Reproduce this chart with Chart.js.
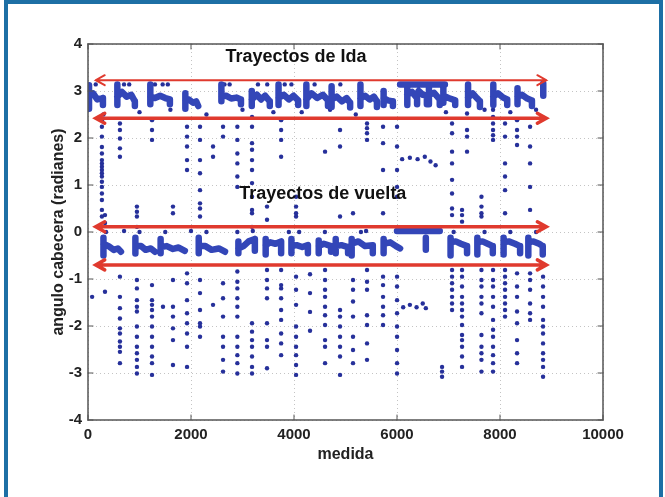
<!DOCTYPE html>
<html lang="es">
<head>
<meta charset="utf-8">
<title>Ángulo de cabecera por medida</title>
<script src="https://cdn.jsdelivr.net/npm/chart.js@4.4.1/dist/chart.umd.min.js"></script>
<style>
  html, body { margin: 0; padding: 0; background: #fff; }
  body { width: 665px; height: 497px; overflow: hidden; position: relative; }
  #marco { position: absolute; left: 4px; top: 0; width: 659px; height: 540px; border: 4px solid #1d6fa5; border-bottom: none; box-sizing: border-box; }
  #contenedor { position: absolute; left: 0; top: 0; width: 665px; height: 497px; }
  canvas { display: block; }
</style>
</head>
<body>
<div id="marco"></div>
<div id="contenedor"><canvas id="grafico" width="665" height="497"></canvas></div>
<script>
// Ejes
const ticksX = [0, 2000, 4000, 6000, 8000, 10000];
const ticksY = [-4, -3, -2, -1, 0, 1, 2, 3, 4];

// Bloques densos de los trayectos de ida (cada trazo es una lista de [medida, angulo])
const trazosIda = [
    [[20, 3.12], [20, 2.62]], [[20, 2.9], [100, 2.95], [180, 2.82], [290, 2.85], [290, 2.7]],
    [[570, 3.14], [570, 2.7]], [[570, 2.88], [660, 2.98], [750, 2.88], [840, 2.92], [910, 2.78], [910, 2.68]],
    [[1210, 3.14], [1210, 2.72]], [[1210, 2.88], [1300, 2.85], [1400, 2.9], [1500, 2.85], [1590, 2.82], [1590, 2.72]],
    [[1890, 2.95], [1890, 2.62]], [[1890, 2.8], [1960, 2.82], [2040, 2.75], [2100, 2.78], [2140, 2.68]],
    [[2590, 3.14], [2590, 2.78]], [[2590, 2.88], [2680, 2.9], [2780, 2.84], [2880, 2.86], [2970, 2.82], [2970, 2.72]],
    [[3180, 3.0], [3180, 2.68]], [[3180, 2.82], [3280, 2.92], [3360, 2.82], [3440, 2.9], [3530, 2.78], [3530, 2.68]],
    [[3700, 3.14], [3700, 2.7]], [[3700, 2.85], [3800, 2.92], [3900, 2.82], [3990, 2.9], [4080, 2.8], [4080, 2.7]],
    [[4240, 3.14], [4240, 2.68]], [[4240, 2.82], [4340, 2.95], [4450, 2.85], [4560, 2.92], [4660, 2.8], [4660, 2.68]],
    [[4730, 3.1], [4730, 2.66]], [[4730, 2.82], [4830, 2.88], [4930, 2.78], [5020, 2.85], [5090, 2.75], [5090, 2.65]],
    [[5290, 3.14], [5290, 2.68]], [[5290, 2.84], [5380, 2.9], [5470, 2.82], [5550, 2.88], [5610, 2.78], [5610, 2.66]],
    [[5740, 3.0], [5740, 2.7]], [[5740, 2.85], [5820, 2.8], [5920, 2.78], [5920, 2.68]],
    [[6060, 3.14], [6930, 3.14]],
    [[6200, 3.12], [6200, 2.7]], [[6200, 2.92], [6290, 2.98], [6390, 2.85], [6390, 2.72]],
    [[6420, 3.0], [6500, 2.92], [6580, 2.9], [6580, 2.72]],
    [[6620, 3.1], [6620, 2.72]], [[6620, 2.92], [6720, 2.96], [6830, 2.82], [6830, 2.7]],
    [[6900, 3.12], [6900, 2.75]], [[6900, 2.9], [7000, 2.85], [7130, 2.8], [7130, 2.7]],
    [[7380, 3.14], [7380, 2.7]], [[7380, 2.86], [7470, 2.95], [7550, 2.85], [7610, 2.78], [7610, 2.66]],
    [[7870, 3.14], [7870, 2.7]], [[7870, 2.88], [7960, 2.95], [8060, 2.86], [8140, 2.82], [8140, 2.7]],
    [[8340, 3.06], [8340, 2.72]], [[8340, 2.88], [8430, 2.92], [8530, 2.84], [8620, 2.8], [8620, 2.68]],
    [[8840, 3.16], [8840, 2.9]]
];

// Bloques densos de los trayectos de vuelta
const trazosVuelta = [
    [[300, -0.12], [300, -0.5]], [[300, -0.25], [400, -0.3], [500, -0.38], [580, -0.35], [640, -0.42]],
    [[920, -0.12], [920, -0.46]], [[920, -0.3], [1030, -0.3], [1120, -0.38], [1220, -0.35], [1300, -0.42]],
    [[1410, -0.15], [1410, -0.45]], [[1410, -0.32], [1530, -0.3], [1650, -0.36], [1760, -0.33], [1880, -0.4]],
    [[2150, -0.12], [2150, -0.45]], [[2150, -0.3], [2280, -0.3], [2400, -0.38], [2540, -0.35], [2660, -0.42]],
    [[2920, -0.2], [2920, -0.45]], [[2920, -0.35], [3020, -0.3], [3120, -0.2], [3240, -0.15], [3240, -0.4]],
    [[3450, -0.15], [3450, -0.48]], [[3450, -0.28], [3540, -0.22], [3640, -0.25], [3750, -0.2], [3750, -0.45]],
    [[3950, -0.15], [3950, -0.45]], [[3950, -0.3], [4050, -0.28], [4160, -0.32], [4270, -0.28], [4270, -0.45]],
    [[4480, -0.18], [4480, -0.45]], [[4480, -0.3], [4580, -0.25], [4720, -0.3], [4720, -0.42]],
    [[4810, -0.15], [4810, -0.45]], [[4810, -0.3], [4920, -0.28], [5050, -0.32], [5050, -0.45]],
    [[5120, -0.15], [5120, -0.5]], [[5120, -0.25], [5250, -0.2], [5380, -0.3], [5530, -0.28], [5530, -0.45]],
    [[5740, -0.15], [5740, -0.45]], [[5740, -0.25], [5870, -0.22], [5980, -0.3], [6060, -0.35]],
    [[6000, 0.02], [6830, 0.02]],
    [[6560, -0.12], [6560, -0.38]],
    [[7040, -0.12], [7040, -0.5]], [[7040, -0.22], [7140, -0.2], [7240, -0.25], [7360, -0.3], [7360, -0.45]],
    [[7560, -0.12], [7560, -0.48]], [[7560, -0.22], [7660, -0.2], [7760, -0.25], [7860, -0.3], [7860, -0.45]],
    [[8070, -0.12], [8070, -0.48]], [[8070, -0.22], [8170, -0.2], [8290, -0.25], [8390, -0.3], [8390, -0.45]],
    [[8550, -0.12], [8550, -0.5]], [[8550, -0.22], [8650, -0.2], [8760, -0.25], [8830, -0.3], [8830, -0.48]]
];

// Columnas de puntos sueltos entre trayectos (medida y ángulos de cada columna)
const columnasX = [80, 270, 330, 620, 950, 1243, 1456, 1650, 1923, 2175, 2428, 2622, 2900, 3185, 3476, 3750, 4040,
    4311, 4603, 4894, 5146, 5418, 5729, 6001, 6875, 7069, 7263, 7360, 7640, 7865, 8098, 8331, 8584, 8836];
const columnasY = [
    [-1.38],
    [2.38, 2.24, 2.03, 1.81, 1.67, 1.53, 1.46, 1.39, 1.32, 1.25, 1.18, 1.07, 0.96, 0.82, 0.68, 0.47, 0.33],
    [0.36, 0.19, -1.27],
    [2.31, 2.17, 1.99, 1.78, 1.60, -0.95, -1.38, -1.62, -1.84, -2.05, -2.16, -2.33, -2.44, -2.55, -2.79],
    [0.54, 0.43, 0.33, 0.11, -1.02, -1.2, -1.45, -1.59, -1.69, -2.01, -2.23, -2.44, -2.58, -2.72, -2.87, -3.01],
    [2.38, 2.17, 1.96, -1.13, -1.45, -1.55, -1.66, -1.80, -2.01, -2.23, -2.44, -2.65, -2.79, -3.04],
    [-1.59],
    [0.54, 0.40, -1.02, -1.59, -1.80, -2.05, -2.3, -2.83],
    [2.24, 2.03, 1.82, 1.53, 1.32, -0.88, -1.09, -1.45, -1.73, -1.94, -2.16, -2.44, -2.87],
    [2.24, 1.96, 1.53, 1.25, 0.89, 0.61, 0.50, 0.33, -1.02, -1.3, -1.66, -1.94, -2.01, -2.23],
    [1.82, 1.60, -1.55],
    [2.24, 2.03, -1.09, -1.41, -1.8, -2.23, -2.44, -2.72, -2.97],
    [2.24, 1.96, 1.67, 1.46, 1.18, 0.96, -0.84, -1.06, -1.2, -1.41, -1.59, -1.8, -2.23, -2.44, -2.62, -2.79, -3.01],
    [2.45, 2.24, 1.89, 1.75, 1.53, 1.32, 1.04, 0.75, 0.47, 0.40, 0.11, -1.94, -2.12, -2.3, -2.44, -2.65, -2.87, -3.01],
    [0.54, 0.26, -0.81, -1.02, -1.2, -1.41, -1.94, -2.3, -2.44, -2.9],
    [2.38, 2.17, 1.96, 1.60, -0.81, -1.13, -1.2, -1.41, -1.66, -1.87, -2.16, -2.37, -2.62],
    [0.75, 0.54, 0.40, 0.33, -0.95, -1.23, -1.55, -2.01, -2.23, -2.44, -2.62, -2.83, -3.04],
    [-0.9, -1.3, -1.7, -2.1],
    [1.71, -0.81, -1.02, -1.23, -1.38, -1.59, -1.77, -1.98, -2.3, -2.44, -2.79],
    [2.17, 1.82, 0.33, -1.66, -1.8, -2.01, -2.23, -2.44, -2.65, -3.04],
    [0.40, -1.02, -1.23, -1.48, -1.8, -2.23, -2.51, -2.79],
    [2.31, 2.21, 2.10, 1.96, -0.81, -1.06, -1.23, -1.77, -1.98, -2.37, -2.72],
    [2.24, 1.89, 1.32, 0.40, -0.95, -1.13, -1.38, -1.59, -1.77, -1.98],
    [2.24, 1.82, 1.32, 0.96, 0.75, -0.95, -1.16, -1.45, -1.73, -2.01, -2.23, -2.51, -2.79, -3.01],
    [-2.87, -2.97, -3.08],
    [2.31, 2.10, 1.71, 1.46, 1.11, 0.82, 0.50, 0.36, -0.81, -0.95, -1.09, -1.23, -1.38, -1.52, -1.66],
    [0.47, 0.36, 0.22, -0.81, -0.95, -1.16, -1.38, -1.52, -1.66, -1.80, -1.98, -2.19, -2.3, -2.44, -2.65, -2.87],
    [2.52, 2.17, 2.03, 1.71],
    [0.75, 0.54, 0.40, 0.33, -0.81, -1.02, -1.16, -1.38, -1.52, -1.73, -2.19, -2.44, -2.58, -2.72, -2.97],
    [2.6, 2.45, 2.31, 2.17, 2.06, 1.96, -0.81, -1.02, -1.16, -1.38, -1.59, -1.87, -2.08, -2.23, -2.44, -2.62, -2.79, -2.97],
    [2.31, 2.03, 1.46, 1.18, 0.89, 0.40, -0.81, -0.95, -1.09, -1.23, -1.38, -1.52, -1.66, -1.8],
    [2.38, 2.17, 2.03, 1.85, -0.88, -1.16, -1.38, -1.69, -1.94, -2.3, -2.58, -2.79],
    [2.24, 1.82, 1.46, 0.96, 0.47, -0.88, -1.02, -1.23, -1.52, -1.73, -1.87],
    [-0.95, -1.16, -1.38, -1.59, -1.87, -2.01, -2.16, -2.37, -2.58, -2.72, -2.87, -3.08]
];

// Otros puntos sueltos: cimas de los bloques, tramos cortos cerca de ±1.55 y puntos junto a las bandas
const puntosSueltos = [
    [150, 3.14], [700, 3.14], [800, 3.14], [1300, 3.14], [1450, 3.14], [1550, 3.14], [2650, 3.14], [2750, 3.14],
    [3300, 3.14], [3480, 3.14], [3820, 3.14], [3950, 3.14], [4400, 3.14], [4900, 3.14],
    [350, 0.0], [700, 0.02], [1000, 0.0], [1500, 0.0], [2000, 0.02], [2300, 0.0], [2900, 0.0], [3200, 0.02],
    [3900, 0.0], [4100, 0.0], [4600, 0.0], [5300, 0.0], [5400, 0.02], [7100, 0.0], [7700, 0.0], [8200, 0.0], [8700, 0.0],
    [6100, 1.55], [6250, 1.58], [6400, 1.55], [6540, 1.6], [6650, 1.5], [6750, 1.42],
    [6120, -1.6], [6250, -1.55], [6380, -1.6], [6500, -1.52], [6560, -1.62],
    [300, 2.5], [1000, 2.55], [1600, 2.6], [2300, 2.5], [3000, 2.6], [3600, 2.55], [4150, 2.55], [4700, 2.6],
    [5200, 2.5], [6950, 2.55], [7700, 2.6], [8200, 2.55], [8700, 2.6]
];

// Flechas rojas (extremos en medida y altura en radianes) y rótulos
const flechasX = [150, 8900];
const flechasY = [3.23, 2.42, 0.11, -0.70];
const rotulos = ['Trayectos de Ida', 'Trayectos de vuelta'];
const rotulosX = [4040, 4560];
const rotulosY = [3.72, 0.8];

function aPuntos(trazos) {
    const datos = [];
    trazos.forEach(function(t) {
        t.forEach(function(p) { datos.push({x: p[0], y: p[1]}); });
        datos.push({x: t[t.length - 1][0], y: null});
    });
    return datos;
}

const dispersos = [];
columnasX.forEach(function(x, i) {
    columnasY[i].forEach(function(y) { dispersos.push({x: x, y: y}); });
});
puntosSueltos.forEach(function(p) { dispersos.push({x: p[0], y: p[1]}); });

// Flechas, rótulos, marco y marcas interiores estilo MATLAB
const anotaciones = {
    id: 'anotaciones',
    afterDatasetsDraw(chart) {
        const ctx = chart.ctx;
        const sx = chart.scales.x, sy = chart.scales.y;
        const a = chart.chartArea;
        ctx.save();

        // flechas de doble punta
        flechasY.forEach(function(v, i) {
            const y = sy.getPixelForValue(v);
            const x0 = sx.getPixelForValue(flechasX[0]);
            const x1 = sx.getPixelForValue(flechasX[1]);
            ctx.strokeStyle = '#e03a2e';
            ctx.lineWidth = i === 0 ? 2 : 3.5;
            ctx.lineCap = 'round';
            ctx.beginPath();
            ctx.moveTo(x0, y); ctx.lineTo(x1, y);
            ctx.moveTo(x0 + 9, y - 5); ctx.lineTo(x0, y); ctx.lineTo(x0 + 9, y + 5);
            ctx.moveTo(x1 - 9, y - 5); ctx.lineTo(x1, y); ctx.lineTo(x1 - 9, y + 5);
            ctx.stroke();
        });

        // rótulos
        ctx.fillStyle = '#111';
        ctx.font = 'bold 18px "Liberation Sans", Arial, sans-serif';
        ctx.textAlign = 'center';
        ctx.textBaseline = 'middle';
        rotulos.forEach(function(t, i) {
            ctx.fillText(t, sx.getPixelForValue(rotulosX[i]), sy.getPixelForValue(rotulosY[i]));
        });

        // marco del área de dibujo
        ctx.strokeStyle = '#555';
        ctx.lineWidth = 1.5;
        ctx.strokeRect(a.left, a.top, a.right - a.left, a.bottom - a.top);

        // marcas hacia dentro
        ctx.lineWidth = 1;
        ctx.beginPath();
        ticksX.forEach(function(v) {
            const x = sx.getPixelForValue(v);
            ctx.moveTo(x, a.bottom); ctx.lineTo(x, a.bottom - 5);
            ctx.moveTo(x, a.top); ctx.lineTo(x, a.top + 5);
        });
        ticksY.forEach(function(v) {
            const y = sy.getPixelForValue(v);
            ctx.moveTo(a.left, y); ctx.lineTo(a.left + 5, y);
            ctx.moveTo(a.right, y); ctx.lineTo(a.right - 5, y);
        });
        ctx.stroke();
        ctx.restore();
    }
};

const fuenteEjes = { family: '"Liberation Sans", Arial, sans-serif', size: 15, weight: 'bold' };
const fuenteTitulos = { family: '"Liberation Sans", Arial, sans-serif', size: 16, weight: 'bold' };

new Chart(document.getElementById('grafico').getContext('2d'), {
    type: 'scatter',
    data: {
        datasets: [
            {
                label: 'Ida',
                data: aPuntos(trazosIda),
                showLine: true,
                spanGaps: false,
                borderColor: '#3346b8',
                borderWidth: 6.5,
                borderCapStyle: 'round',
                borderJoinStyle: 'round',
                pointRadius: 0,
                tension: 0
            },
            {
                label: 'Vuelta',
                data: aPuntos(trazosVuelta),
                showLine: true,
                spanGaps: false,
                borderColor: '#3346b8',
                borderWidth: 6.5,
                borderCapStyle: 'round',
                borderJoinStyle: 'round',
                pointRadius: 0,
                tension: 0
            },
            {
                label: 'Puntos',
                data: dispersos,
                pointRadius: 2.2,
                pointBorderWidth: 0,
                backgroundColor: '#26309a',
                borderColor: '#26309a'
            }
        ]
    },
    options: {
        responsive: false,
        animation: false,
        devicePixelRatio: 1,
        layout: { padding: { left: 49, top: 44, right: 62, bottom: 33 } },
        plugins: { legend: { display: false }, tooltip: { enabled: false } },
        scales: {
            x: {
                type: 'linear',
                min: 0,
                max: 10000,
                afterFit: function(s) { s.height = 44; },
                afterBuildTicks: function(s) { s.ticks = ticksX.map(v => ({value: v})); },
                ticks: { padding: 6, color: '#222', font: fuenteEjes, autoSkip: false, maxRotation: 0,
                    callback: function(v) { return String(v); } },
                grid: { color: '#c4c4c4', lineWidth: 1, drawTicks: false },
                border: { display: false, dash: [1, 3] },
                title: { display: true, text: 'medida', color: '#222', font: fuenteTitulos, padding: 0 }
            },
            y: {
                type: 'linear',
                min: -4,
                max: 4,
                afterFit: function(s) { s.width = 39; },
                afterBuildTicks: function(s) { s.ticks = ticksY.map(v => ({value: v})); },
                ticks: { padding: 6, color: '#222', font: fuenteEjes, autoSkip: false,
                    callback: function(v) { return String(v); } },
                grid: { color: '#c4c4c4', lineWidth: 1, drawTicks: false },
                border: { display: false, dash: [1, 3] },
                title: { display: true, text: 'angulo cabecera (radianes)', color: '#222', font: fuenteTitulos, padding: 0 }
            }
        }
    },
    plugins: [anotaciones]
});
</script>
</body>
</html>
